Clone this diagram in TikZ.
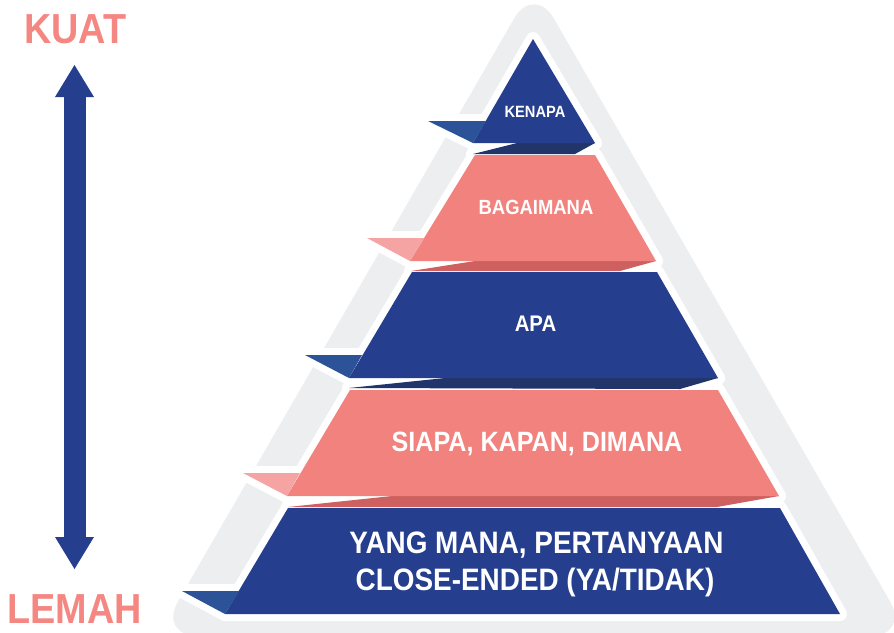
\documentclass[tikz,border=0pt]{standalone}
\usepackage{fontspec}
\setmainfont{Liberation Sans}[FakeStretch=0.9]
\usetikzlibrary{arrows.meta}
\definecolor{pblue}{RGB}{37,62,142}
\definecolor{pblueflap}{RGB}{44,82,152}
\definecolor{pblueshade}{RGB}{33,53,107}
\definecolor{pcoral}{RGB}{242,130,126}
\definecolor{pcoralflap}{RGB}{246,163,163}
\definecolor{pcoralshade}{RGB}{206,96,95}
\definecolor{pgray}{RGB}{237,238,240}
\definecolor{ptitle}{RGB}{244,135,130}
\tikzset{
  halo/.style={draw=white, line width=14pt, line join=round},
  lbl/.style={text=white, anchor=base, inner sep=0pt},
  ttl/.style={text=ptitle, anchor=base, inner sep=0pt, font=\bfseries\fontsize{42}{46}\selectfont},
  bigtip/.tip={Triangle[width=39pt,length=32pt,line width=0pt]},
  dblarrow/.style={draw=pblue, line width=22pt, bigtip-bigtip},
}
\newcommand{\fsz}[1]{\bfseries\fontsize{#1}{#1}\selectfont}
\begin{document}
\begin{tikzpicture}[x=1pt,y=-1pt]
\clip (0,0) rectangle (894,632);
% grey background pyramid
\fill[pgray, rounded corners=40pt] (534,-16) -- (910,636) -- (158,636) -- cycle;

% white halos
\draw[halo] (533,39) -- (595,143) -- (473,143) -- cycle;
\draw[halo] (428,121) -- (486,121) -- (473,143) -- cycle;
\draw[halo] (473,154) -- (517,143) -- (595,143) -- (575,154) -- cycle;
\draw[halo] (475,155) -- (595,155) -- (656,261) -- (410,261) -- cycle;
\draw[halo] (367,238) -- (424,238) -- (410,261) -- cycle;
\draw[halo] (411,271) -- (475,261) -- (656,261) -- (620,271) -- cycle;
\draw[halo] (412,272) -- (657,272) -- (718,378) -- (349,378) -- cycle;
\draw[halo] (305,355) -- (362,355) -- (349,378) -- cycle;
\draw[halo] (349,388) -- (445,378) -- (718,378) -- (680,389) -- cycle;
\draw[halo] (350,390) -- (718,390) -- (779,496) -- (287,496) -- cycle;
\draw[halo] (243,473) -- (300,473) -- (287,496) -- cycle;
\draw[halo] (288,507) -- (392,496) -- (779,496) -- (717,507) -- cycle;
\draw[halo] (288,508) -- (780,508) -- (840,614) -- (225,614) -- cycle;
\draw[halo] (182,591) -- (239,591) -- (225,614) -- cycle;

% layer 1
\fill[pblueshade] (473,154) -- (517,143) -- (595,143) -- (575,154) -- cycle;
\fill[pblue] (533,39) -- (595,143) -- (473,143) -- cycle;
\fill[pblueflap] (428,121) -- (486,121) -- (473,143) -- cycle;
% layer 2
\fill[pcoralshade] (411,271) -- (475,261) -- (656,261) -- (620,271) -- cycle;
\fill[pcoral] (475,155) -- (595,155) -- (656,261) -- (410,261) -- cycle;
\fill[pcoralflap] (367,238) -- (424,238) -- (410,261) -- cycle;
% layer 3
\fill[pblueshade] (349,388) -- (445,378) -- (718,378) -- (680,389) -- cycle;
\fill[pblue] (412,272) -- (657,272) -- (718,378) -- (349,378) -- cycle;
\fill[pblueflap] (305,355) -- (362,355) -- (349,378) -- cycle;
% layer 4
\fill[pcoralshade] (288,507) -- (392,496) -- (779,496) -- (717,507) -- cycle;
\fill[pcoral] (350,390) -- (718,390) -- (779,496) -- (287,496) -- cycle;
\fill[pcoralflap] (243,473) -- (300,473) -- (287,496) -- cycle;
% layer 5
\fill[pblue] (288,508) -- (780,508) -- (840,614) -- (225,614) -- cycle;
\fill[pblueflap] (182,591) -- (239,591) -- (225,614) -- cycle;

% labels
\node[lbl, font=\fsz{16.3}] (kenapa) at (535,117) {KENAPA};
\node[lbl, font=\fsz{20.5}] (bagaimana) at (536,214) {BAGAIMANA};
\node[lbl, font=\fsz{22.6}] (apa) at (535.5,331) {APA};
\node[lbl, font=\fsz{27.9}] (siapa) at (537,451) {SIAPA, KAPAN, DIMANA};
\node[lbl, font=\fsz{31}] (yang) at (536.5,553) {YANG MANA, PERTANYAAN};
\node[lbl, font=\fsz{31}] (close) at (535,590) {CLOSE-ENDED (YA/TIDAK)};

% scale
\node[ttl] (kuat) at (75.5,43) {KUAT};
\node[ttl] (lemah) at (74.5,623) {LEMAH};
\coordinate (atop) at (74.5,65);
\coordinate (abot) at (74.5,569);
\draw[dblarrow] (atop) -- (abot);
\end{tikzpicture}
\end{document}
